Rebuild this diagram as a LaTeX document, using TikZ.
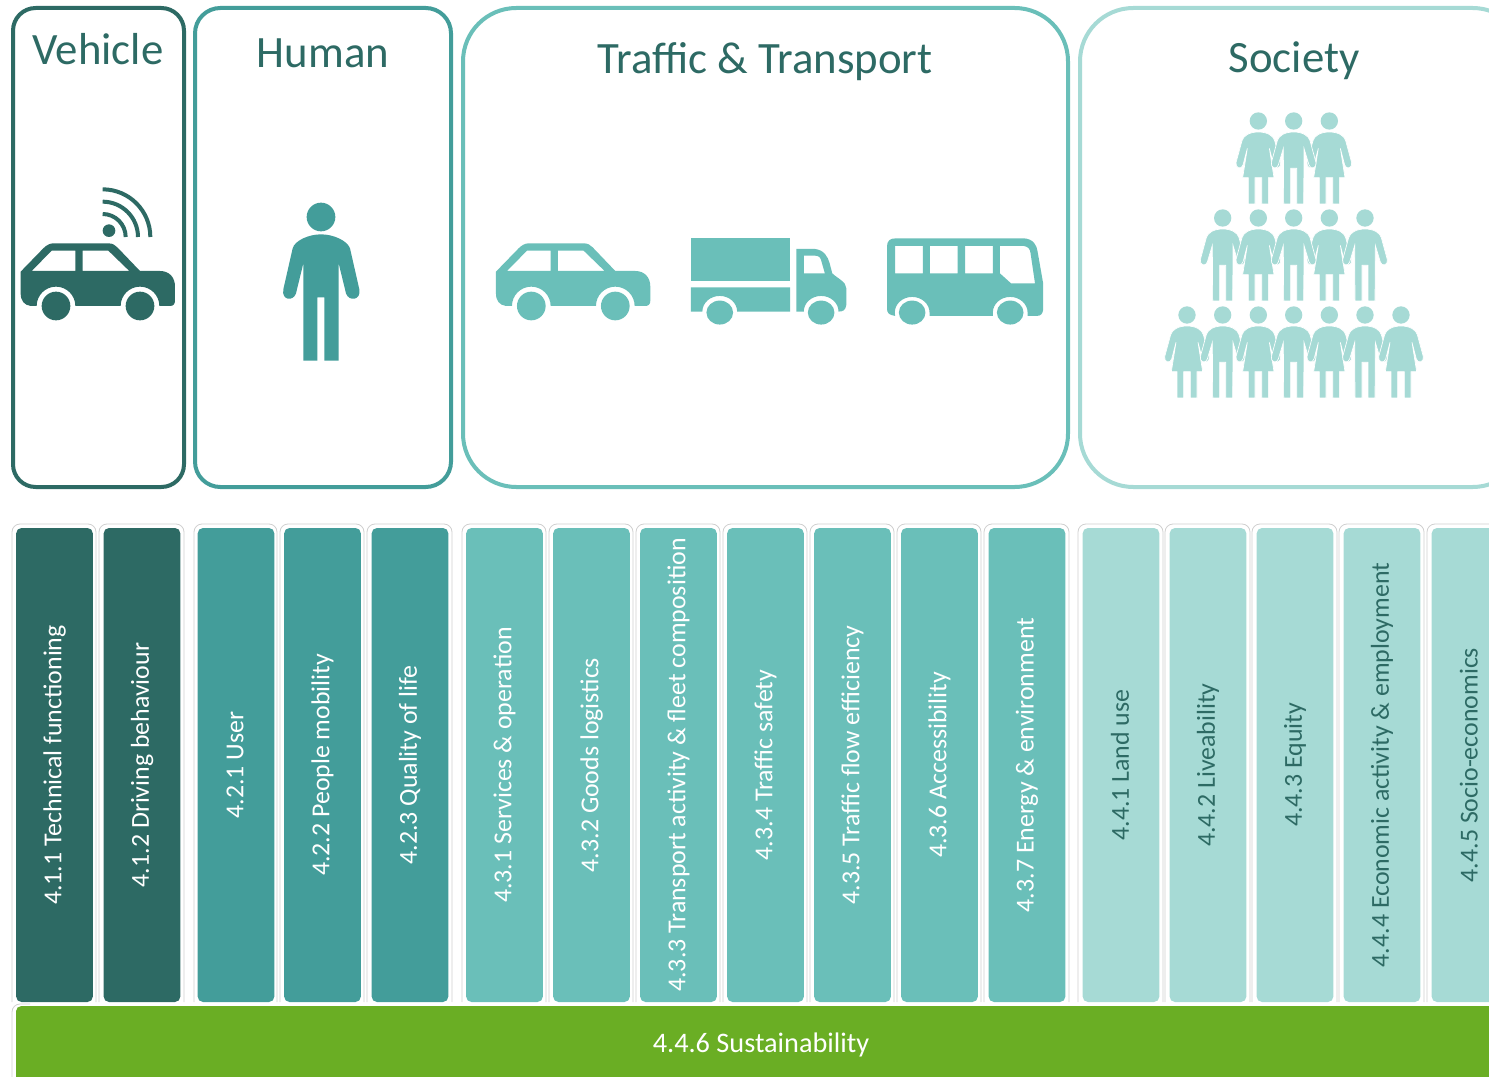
\documentclass[tikz,border=0pt]{standalone}
\usepackage{fontspec}
\setmainfont{Carlito}
\definecolor{cdark}{HTML}{2D6A64}
\definecolor{cmid}{HTML}{439D9A}
\definecolor{cteal}{HTML}{6ABFB9}
\definecolor{clight}{HTML}{A6DAD5}
\definecolor{cgreen}{HTML}{6AAE24}
\definecolor{cghost}{HTML}{CFCFCF}
\tikzset{
  frame/.style={draw=#1,line width=3pt,fill=white},
  title/.style={text=cdark,font=\fontsize{33.6}{33.6}\selectfont,inner sep=0pt},
  barnode/.style={fill=#1,rounded corners=4pt,inner sep=0pt,rotate=90,minimum height=57.5pt,minimum width=355.5pt,font=\fontsize{19.4}{19.4}\selectfont},
  ghost/.style={draw=cghost,line width=.6pt,rounded corners=6pt},
  fig/.style={draw=white,line width=.5pt},
}
\newcommand{\carshape}{%
    \fill[even odd rule] (62,320) -- (62,305) -- (130,235) .. controls (140,225) and (150,220) .. (160,220) -- (325,220) .. controls (338,220) and (345,225) .. (352,232) -- (420,303) -- (480,303) .. controls (508,303) and (525,322) .. (525,350) -- (525,392) .. controls (525,402) and (520,408) .. (510,408) -- (478,408) arc[start angle=0,end angle=-180,radius=58] -- (226,408) arc[start angle=0,end angle=-180,radius=58] -- (92,408) .. controls (72,405) and (62,392) .. (62,370) -- cycle
      (95,303) -- (155,242) -- (226,242) -- (226,303) -- cycle
      (248,242) -- (325,242) -- (388,303) -- (248,303) -- cycle;
    \fill (168,408) circle[radius=43] (420,408) circle[radius=43];}
\newcommand{\manshape}[2]{\begin{scope}[shift={(#1,#2)}]
    \fill (0,63) circle[radius=26];
    \path[fill,fig] (0,96) .. controls (28,96) and (45,108) .. (49,122) -- (67,188) .. controls (70,205) and (50,210) .. (46,195) -- (31,145) -- (30,312) -- (9,312) -- (9,205) -- (-9,205) -- (-9,312) -- (-30,312) -- (-31,145) -- (-46,195) .. controls (-50,210) and (-70,205) .. (-67,188) -- (-49,122) .. controls (-45,108) and (-28,96) .. (0,96) -- cycle;
  \end{scope}}
\newcommand{\womanshape}[2]{\begin{scope}[shift={(#1,#2)}]
    \fill (0,63) circle[radius=26];
    \path[fill,fig] (0,96) .. controls (28,96) and (45,108) .. (49,122) -- (67,188) .. controls (70,205) and (50,210) .. (46,195) -- (33,145) -- (47,233) -- (30,233) -- (30,312) -- (10,312) -- (10,233) -- (-10,233) -- (-10,312) -- (-30,312) -- (-30,233) -- (-47,233) -- (-33,145) -- (-46,195) .. controls (-50,210) and (-70,205) .. (-67,188) -- (-49,122) .. controls (-45,108) and (-28,96) .. (0,96) -- cycle;
  \end{scope}}
\newcommand{\tbar}[6]{%
  \path[ghost] (#2-4,1002) -- (#2-4,524) -- (#3+3,524) -- (#3+3,1002);
  \node[barnode=#4,text=#5] (#1) at ({(#2+#3)/2},765) {#6};}
\begin{document}
\begin{tikzpicture}[x=.75pt,y=-.75pt]
\useasboundingbox (0,0) rectangle (1489,1077);
\clip (0,0) rectangle (1489,1077);
% frames
\draw[frame=cdark,rounded corners=17pt] (13,8) rectangle (184,487);
\draw[frame=cmid,rounded corners=19pt] (195,8) rectangle (451,487);
\draw[frame=cteal,rounded corners=40pt] (463,8) rectangle (1068,487);
\draw[frame=clight,rounded corners=40pt] (1080,8) rectangle (1526,487);
\node[title] (tv) at (98,49) {Vehicle};
\node[title] (th) at (323,53) {Human};
\node[title] (tt) at (765,62) {Traffic \& Transport};
\node[title] (ts) at (1294,61) {Society};
% dark car with wireless signal
\begin{scope}[shift={(0,170)},scale=1/3,fill=cdark]
  \carshape
  \fill (327,182) circle[radius=19];
  \draw[cdark,line width=3pt] (308,132) arc[start angle=-90,end angle=0,radius=69];
  \draw[cdark,line width=3pt] (308,95) arc[start angle=-90,end angle=0,radius=106];
  \draw[cdark,line width=3pt] (308,58) arc[start angle=-90,end angle=0,radius=143];
\end{scope}
% person
\begin{scope}[shift={(0,170)},scale=1/3,fill=cmid]
  \fill (963,141) circle[radius=43];
  \fill (963,193) .. controls (1000,193) and (1042,212) .. (1050,235) -- (1078,358) .. controls (1084,392) and (1046,395) .. (1038,370) -- (1016,280) -- (1016,572) -- (973,572) -- (973,382) -- (952,382) -- (952,572) -- (910,572) -- (910,280) -- (888,370) .. controls (880,395) and (844,392) .. (850,358) -- (878,235) .. controls (884,212) and (926,193) .. (963,193) -- cycle;
\end{scope}
% teal car
\begin{scope}[shift={(475.3,170)},scale=1/3,fill=cteal]
  \carshape
\end{scope}
% truck and bus
\begin{scope}[shift={(480,220)},xscale=.37,yscale=.333,fill=cteal]
  \fill (570,55) rectangle (838,182);
  \fill (570,202) -- (838,202) -- (838,275) -- (695,275) arc[start angle=0,end angle=-180,radius=47] -- (570,275) -- cycle;
  \fill (648,278) circle[radius=36] (922,278) circle[radius=36];
  \fill[even odd rule] (855,87) -- (905,87) .. controls (930,90) and (940,110) .. (945,130) -- (952,160) .. controls (965,175) and (990,185) .. (990,205) -- (990,255) .. controls (988,272) and (980,275) .. (969,275) arc[start angle=0,end angle=-180,radius=47] -- (855,275) -- cycle
    (875,107) -- (905,107) .. controls (918,107) and (921,115) .. (923,125) -- (932,160) -- (875,160) -- cycle;
  \fill[even odd rule] (1100,80) .. controls (1100,62) and (1108,55) .. (1125,55) -- (1470,55) .. controls (1495,57) and (1505,75) .. (1507,95) -- (1522,190) -- (1522,270) .. controls (1520,283) and (1515,288) .. (1505,288) -- (1480,288) -- (1480,278) arc[start angle=0,end angle=-180,radius=47] -- (1386,288) -- (1215,288) -- (1215,278) arc[start angle=0,end angle=-180,radius=47] -- (1122,288) .. controls (1105,285) and (1100,280) .. (1100,265) -- cycle
    (1122,78) rectangle (1197,160)
    (1216,78) rectangle (1291,160)
    (1311,78) rectangle (1386,160)
    (1405,78) -- (1470,78) .. controls (1482,80) and (1487,88) .. (1488,100) -- (1500,190) -- (1435,190) -- (1405,160) -- cycle;
  \fill (1168,278) circle[radius=36] (1433,278) circle[radius=36];
\end{scope}
% society
\begin{scope}[shift={(1150,100)},scale=1/3,fill=clight]
  \womanshape{325}{0}\womanshape{538}{0}\manshape{431}{0}
  \manshape{218}{291}\womanshape{325}{291}\womanshape{538}{291}\manshape{645}{291}\manshape{431}{291}
  \womanshape{111}{582}\manshape{218}{582}\womanshape{325}{582}\manshape{431}{582}\womanshape{538}{582}\manshape{645}{582}\womanshape{753}{582}
\end{scope}
% bars
\tbar{b411}{16}{93}{cdark}{white}{\raisebox{-.6pt}{4.1.1 Technical functioning}}
\tbar{b412}{103}{181}{cdark}{white}{4.1.2 Driving behaviour}
\tbar{b421}{198}{274}{cmid}{white}{\raisebox{1.5pt}{4.2.1 User}}
\tbar{b422}{284}{361}{cmid}{white}{4.2.2 People mobility}
\tbar{b423}{371}{449}{cmid}{white}{4.2.3 Quality of life}
\tbar{b431}{466}{543}{cteal}{white}{\raisebox{1pt}{4.3.1 Services \& operation}}
\tbar{b432}{553}{630}{cteal}{white}{4.3.2 Goods logistics}
\tbar{b433}{640}{717}{cteal}{white}{4.3.3 Transport activity \& fleet composition}
\tbar{b434}{727}{804}{cteal}{white}{4.3.4 Traffic safety}
\tbar{b435}{814}{891}{cteal}{white}{4.3.5 Traffic flow efficiency}
\tbar{b436}{901}{978}{cteal}{white}{4.3.6 Accessibility}
\tbar{b437}{988}{1066}{cteal}{white}{4.3.7 Energy \& environment}
\tbar{b441}{1082}{1160}{clight}{cdark}{\raisebox{1.5pt}{4.4.1 Land use}}
\tbar{b442}{1169}{1247}{clight}{cdark}{4.4.2 Liveability}
\tbar{b443}{1256}{1334}{clight}{cdark}{4.4.3 Equity}
\tbar{b444}{1343}{1421}{clight}{cdark}{4.4.4 Economic activity \& employment}
\tbar{b445}{1431}{1509}{clight}{cdark}{\raisebox{2pt}{4.4.5 Socio-economics}}
% sustainability
\path[ghost] (12,1080) -- (12,1004) -- (30,1004);
\fill[cgreen,rounded corners=4pt] (16,1006) rectangle (1520,1090);
\node[text=white,inner sep=0pt,font=\fontsize{21.2}{21.2}\selectfont] (b446) at (761,1045) {4.4.6 Sustainability};
\end{tikzpicture}
\end{document}
